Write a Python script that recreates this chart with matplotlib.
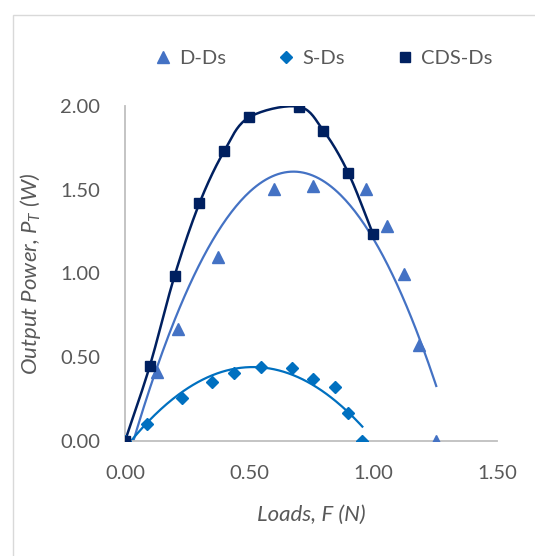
import numpy as np
import matplotlib.pyplot as plt
from matplotlib.lines import Line2D
from matplotlib.patches import Rectangle

# Data
dd_load = [0.0, 0.128, 0.212, 0.376, 0.601, 0.758, 0.972, 1.058, 1.124, 1.187, 1.255]
dd_power = [0.0, 0.414, 0.669, 1.10, 1.504, 1.524, 1.506, 1.282, 0.997, 0.573, 0.0]

sd_load = [0.0, 0.088, 0.231, 0.349, 0.441, 0.550, 0.672, 0.760, 0.845, 0.900, 0.957]
sd_power = [0.0, 0.100, 0.255, 0.350, 0.408, 0.444, 0.434, 0.370, 0.322, 0.165, 0.0]

cds_load = [0.0, 0.1, 0.2, 0.3, 0.4, 0.5, 0.7, 0.8, 0.9, 1.0]
cds_power = [0.0, 0.448, 0.987, 1.419, 1.731, 1.932, 1.996, 1.853, 1.602, 1.236]

c_dd = '#4472C4'
c_sd = '#0070C0'
c_cds = '#002060'
txt = '#595959'

plt.rcParams['font.family'] = ['Lato', 'DejaVu Sans']
plt.rcParams['mathtext.fontset'] = 'custom'
plt.rcParams['mathtext.rm'] = 'Lato'
plt.rcParams['mathtext.it'] = 'Lato:italic'


def smooth(x, y, n=20):
    # Catmull-Rom curve through the points (like Excel's smoothed line)
    x = np.asarray(x, float)
    y = np.asarray(y, float)
    px = np.concatenate([[2 * x[0] - x[1]], x, [2 * x[-1] - x[-2]]])
    py = np.concatenate([[2 * y[0] - y[1]], y, [2 * y[-1] - y[-2]]])
    xs, ys = [], []
    t = np.linspace(0, 1, n)
    for i in range(1, len(px) - 2):
        for p, out in ((px, xs), (py, ys)):
            p0, p1, p2, p3 = p[i - 1], p[i], p[i + 1], p[i + 2]
            out.extend(0.5 * ((2 * p1) + (-p0 + p2) * t
                              + (2 * p0 - 5 * p1 + 4 * p2 - p3) * t ** 2
                              + (-p0 + 3 * p1 - 3 * p2 + p3) * t ** 3))
    return np.array(xs), np.array(ys)


fig = plt.figure(figsize=(5.35, 5.56), dpi=100)
ax = fig.add_axes([125 / 535, 1 - 441 / 556, 372 / 535, 335 / 556])

# chart border (top and left visible)
fig.patches.append(Rectangle((13 / 535, -0.1), 1.2, 1 - 15 / 556 + 0.1,
                             transform=fig.transFigure, fill=False,
                             edgecolor='#D9D9D9', lw=1.0))

# polynomial trendlines
for xl, yl, c in ((dd_load, dd_power, c_dd), (sd_load, sd_power, c_sd)):
    coef = np.polyfit(xl, yl, 2)
    xx = np.linspace(min(xl), max(xl), 200)
    ax.plot(xx, np.polyval(coef, xx), color=c, lw=1.6, zorder=2)

sx, sy = smooth(cds_load, cds_power)
ax.plot(sx, sy, color=c_cds, lw=1.8, zorder=2)

ax.plot(dd_load, dd_power, ls='none', marker='^', ms=9, color=c_dd, zorder=3)
ax.plot(sd_load, sd_power, ls='none', marker='D', ms=6.5, color=c_sd, zorder=3)
ax.plot(cds_load, cds_power, ls='none', marker='s', ms=6.5, color=c_cds, zorder=3)

ax.set_xlim(0, 1.5)
ax.set_ylim(0, 2.0)
ax.set_xticks([0, 0.5, 1.0, 1.5])
ax.set_yticks([0, 0.5, 1.0, 1.5, 2.0])
ax.set_xticklabels(['%.2f' % v for v in [0, 0.5, 1.0, 1.5]])
ax.set_yticklabels(['%.2f' % v for v in [0, 0.5, 1.0, 1.5, 2.0]])
ax.tick_params(axis='x', length=0, labelsize=14.5, labelcolor=txt, pad=17)
ax.tick_params(axis='y', length=0, labelsize=14.5, labelcolor=txt, pad=18)
for s in ['top', 'right']:
    ax.spines[s].set_visible(False)
for s in ['left', 'bottom']:
    ax.spines[s].set_color('#BFBFBF')
    ax.spines[s].set_linewidth(1.3)
for sp in ax.spines.values():
    sp.set_clip_on(False)

ax.set_xlabel('Loads, F (N)', fontsize=16, style='italic', color=txt)
ax.set_ylabel('Output Power, $P_T$ (W)', fontsize=16, style='italic', color=txt)
ax.xaxis.set_label_coords(0.5, -0.19)
ax.yaxis.set_label_coords(-0.22, 0.5)

handles = [
    Line2D([], [], ls='none', marker='^', ms=9, color=c_dd, label='D-Ds'),
    Line2D([], [], ls='none', marker='D', ms=6.5, color=c_sd, label='S-Ds'),
    Line2D([], [], ls='none', marker='s', ms=6.5, color=c_cds, label='CDS-Ds'),
]
fig.legend(handles=handles, loc='center', bbox_to_anchor=(0.605, 1 - 58 / 556),
           ncol=3, frameon=False, fontsize=14.5, labelcolor=txt,
           handlelength=0.8, handletextpad=0.4, columnspacing=2.6)

fig.savefig('out.png', dpi=100)
